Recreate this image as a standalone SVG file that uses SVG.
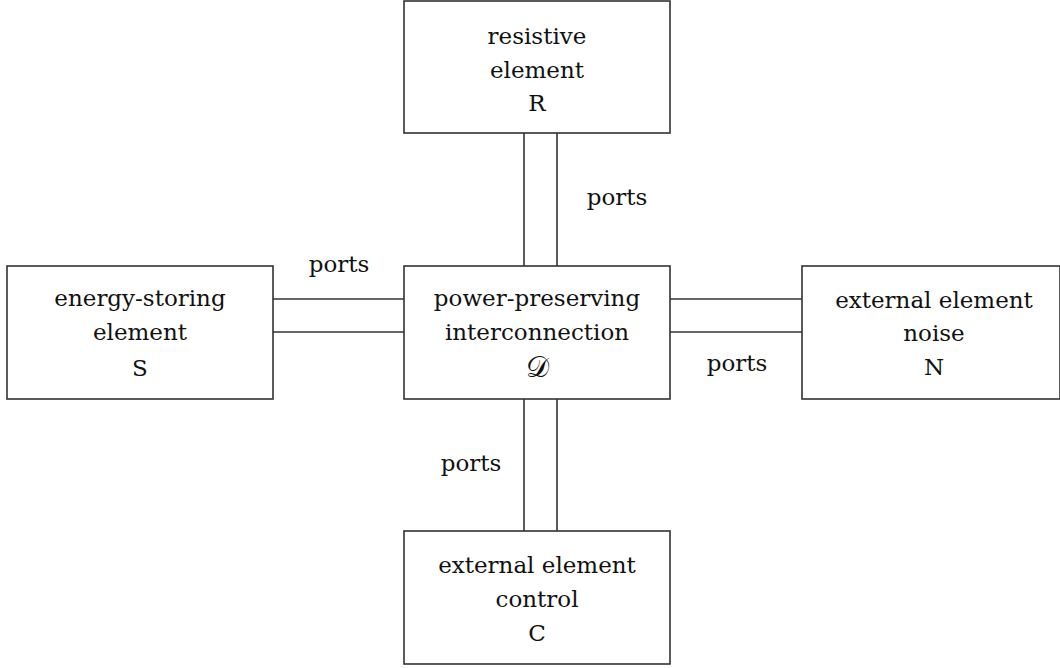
<svg xmlns="http://www.w3.org/2000/svg" width="1060" height="668" viewBox="0 0 1060 668">
<style>
.box{fill:#fff;stroke:#333;stroke-width:1.6}
.ln{stroke:#333;stroke-width:1.6;fill:none}
.t{font-family:"DejaVu Serif",serif;font-size:23px;fill:#111;text-anchor:middle}
</style>
<rect width="1060" height="668" fill="#fff"/>
<g id="connectors">
<line class="ln" x1="524" y1="133" x2="524" y2="266"/>
<line class="ln" x1="557" y1="133" x2="557" y2="266"/>
<line class="ln" x1="273" y1="299" x2="404" y2="299"/>
<line class="ln" x1="273" y1="332" x2="404" y2="332"/>
<line class="ln" x1="670" y1="299" x2="802" y2="299"/>
<line class="ln" x1="670" y1="332" x2="802" y2="332"/>
<line class="ln" x1="524" y1="399" x2="524" y2="531"/>
<line class="ln" x1="557" y1="399" x2="557" y2="531"/>
<text class="t" x="617" y="205">ports</text>
<text class="t" x="339" y="272">ports</text>
<text class="t" x="737" y="371">ports</text>
<text class="t" x="471" y="471">ports</text>
</g>
<g id="R">
<rect class="box" x="404" y="1" width="266" height="132"/>
<text class="t" x="537" y="44">resistive</text>
<text class="t" x="537" y="78">element</text>
<text class="t" x="537" y="111">R</text>
</g>
<g id="S">
<rect class="box" x="7" y="266" width="266" height="133"/>
<text class="t" x="140" y="306">energy-storing</text>
<text class="t" x="140" y="340">element</text>
<text class="t" x="140" y="376">S</text>
</g>
<g id="D">
<rect class="box" x="404" y="266" width="266" height="133"/>
<text class="t" x="537" y="306">power-preserving</text>
<text class="t" x="537" y="340">interconnection</text>
<text class="t" x="537" y="377" style="font-size:29px">𝒟</text>
</g>
<g id="N">
<rect class="box" x="802" y="266" width="258" height="133"/>
<text class="t" x="934" y="308">external element</text>
<text class="t" x="934" y="341">noise</text>
<text class="t" x="934" y="375">N</text>
</g>
<g id="C">
<rect class="box" x="404" y="531" width="266" height="133"/>
<text class="t" x="537" y="573">external element</text>
<text class="t" x="537" y="607">control</text>
<text class="t" x="537" y="641">C</text>
</g>
</svg>
